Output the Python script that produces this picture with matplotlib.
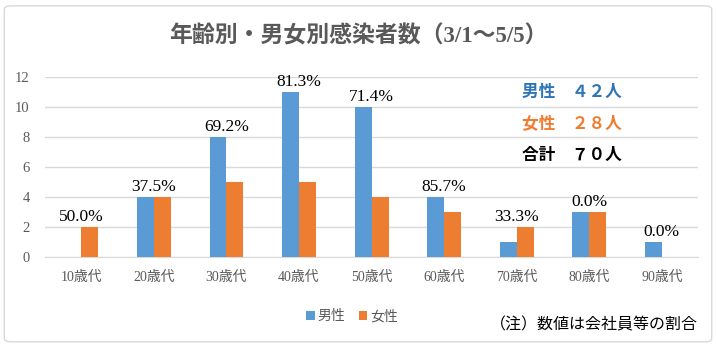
import numpy as np
import matplotlib
matplotlib.use('Agg')
import matplotlib.pyplot as plt
from matplotlib.patches import FancyBboxPatch

# データ
categories = ['10歳代', '20歳代', '30歳代', '40歳代', '50歳代', '60歳代', '70歳代', '80歳代', '90歳代']
male = [0, 4, 8, 11, 10, 4, 1, 3, 1]
female = [2, 4, 5, 5, 4, 3, 2, 3, 0]
ratio_labels = ['50.0%', '37.5%', '69.2%', '81.3%', '71.4%', '85.7%', '33.3%', '0.0%', '0.0%']

serif = ['Liberation Serif', 'Noto Sans CJK JP']
plt.rcParams['font.family'] = serif
plt.rcParams['axes.unicode_minus'] = False

blue = '#5B9BD5'
orange = '#ED7D31'
grey = '#595959'

fig = plt.figure(figsize=(7.16, 3.47), dpi=100)
ax = fig.add_axes([0.063, 0.259, 0.912, 0.519])

x = np.arange(len(categories))
w = 0.234
ax.bar(x - w / 2, male, w, color=blue, label='男性', zorder=3)
ax.bar(x + w / 2, female, w, color=orange, label='女性', zorder=3)

# 割合ラベル
for i, lab in enumerate(ratio_labels):
    top = max(male[i], female[i])
    ax.text(x[i], top + 0.12, lab, ha='center', va='bottom', fontsize=12.5, color='black')

ax.set_xlim(-0.5, len(categories) - 0.5)
ax.set_ylim(0, 12)
ax.set_yticks(range(0, 13, 2))
ax.set_xticks(x)
ax.set_xticklabels(categories, fontsize=10, color=grey)
ax.tick_params(axis='y', labelsize=10.5, labelcolor=grey, length=0, pad=11)
ax.tick_params(axis='x', length=0, pad=10)
ax.grid(axis='y', color='#D9D9D9', linewidth=1, zorder=0)
for s in ['top', 'right', 'left']:
    ax.spines[s].set_visible(False)
ax.spines['bottom'].set_color('#D9D9D9')

fig.text(0.5, 0.895, '年齢別・男女別感染者数（3/1～5/5）', ha='center', va='center',
         fontsize=16.5, fontweight='bold', color=grey)

# 合計ボックス
fig.text(0.729, 0.735, '男性　４２人', fontsize=12, fontweight='bold', color='#2E75B6',
         family='Noto Sans CJK JP', va='center')
fig.text(0.729, 0.643, '女性　２８人', fontsize=12, fontweight='bold', color=orange,
         family='Noto Sans CJK JP', va='center')
fig.text(0.729, 0.553, '合計　７０人', fontsize=12, fontweight='bold', color='black',
         family='Noto Sans CJK JP', va='center')

leg = ax.legend(loc='center', bbox_to_anchor=(0.47, -0.33), ncol=2, frameon=False,
                fontsize=10, handlelength=0.6, handleheight=0.6, handletextpad=0.2,
                columnspacing=1.0)
for t in leg.get_texts():
    t.set_color(grey)

fig.text(0.975, 0.062, '（注）数値は会社員等の割合', ha='right', va='center', fontsize=11.5,
         color='black')

border = FancyBboxPatch((0.006, 0.015), 0.988, 0.968, boxstyle='round,pad=0,rounding_size=0.01',
                        transform=fig.transFigure, fill=False, edgecolor='#D9D9D9', linewidth=1)
fig.patches.append(border)

fig.savefig('out.png', dpi=100)
